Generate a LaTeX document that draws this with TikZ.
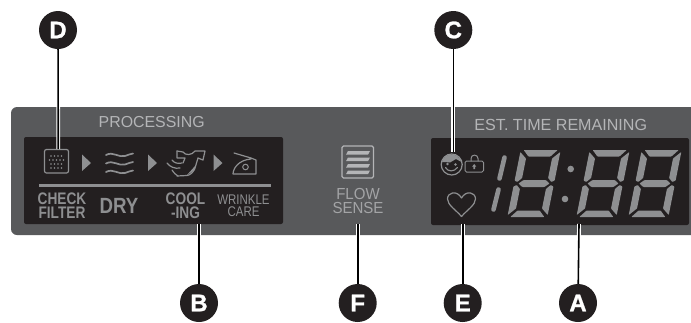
\documentclass[tikz,border=0pt]{standalone}
\usepackage{fontspec}
\setmainfont{Liberation Sans}
\newfontfamily\badgefont[UprightFont={* Bold},FakeBold=1.2]{Liberation Sans}
\definecolor{panel}{HTML}{58595B}
\definecolor{lcd}{HTML}{231F20}
\definecolor{seg}{HTML}{8E8F91}
\definecolor{lbl}{HTML}{B4B5B7}
\definecolor{flowc}{HTML}{A3A4A6}
\newcommand{\segdigit}[2]{%
\begin{scope}[shift={(#1,#2)},xslant=0.2]
\fill[seg,rounded corners=0.6pt] (3,-33.5)--(37,-33.5)--(31,-27)--(9,-27)--cycle;
\fill[seg,rounded corners=0.6pt] (3,33.5)--(37,33.5)--(31,27)--(9,27)--cycle;
\fill[seg,rounded corners=0.6pt] (4.5,0)--(9,-3.5)--(31,-3.5)--(35.5,0)--(31,3.5)--(9,3.5)--cycle;
\fill[seg,rounded corners=0.6pt] (0,-31.5)--(7,-25)--(7,-5.5)--(3,-1.5)--(0,-3)--cycle;
\fill[seg,rounded corners=0.6pt] (0,31.5)--(7,25)--(7,5.5)--(3,1.5)--(0,3)--cycle;
\fill[seg,rounded corners=0.6pt] (40,-31.5)--(33,-25)--(33,-5.5)--(37,-1.5)--(40,-3)--cycle;
\fill[seg,rounded corners=0.6pt] (40,31.5)--(33,25)--(33,5.5)--(37,1.5)--(40,3)--cycle;
\end{scope}}
\tikzset{
 badge/.style={circle,fill=lcd,text=white,minimum size=38pt,inner sep=0pt,font=\badgefont\fontsize{24}{24}\selectfont},
 leader/.style={draw=black,line width=1.6pt,preaction={draw=white,line width=3.8pt}},
 icon/.style={draw=seg,line width=1.2pt,line join=round,line cap=round},
 lab/.style={inner sep=0pt,text=seg,align=center},
}
\begin{document}
\begin{tikzpicture}[x=1pt,y=-1pt]
\useasboundingbox (0,0) rectangle (691,322);
\fill[white] (0,0) rectangle (691,322);
\begin{scope}
\clip (0,0) rectangle (691,322);
\fill[panel,rounded corners=6pt] (11,107) rectangle (705,235);
\end{scope}
\fill[lcd,rounded corners=2pt] (24,137) rectangle (283,224);
\fill[lcd,rounded corners=2pt] (431,138) rectangle (689,225);
% headings
\node[lab,text=lbl,font=\fontsize{15.9}{16}\selectfont] (proc) at (151.7,122.3) {PROCESSING};
\node[lab,text=lbl,font=\fontsize{16.1}{16}\selectfont] (est) at (560.8,124.5) {EST. TIME REMAINING};
% filter icon
\draw[icon,rounded corners=2pt] (44.5,149.5) rectangle (68.5,173);
\foreach \yy/\xs in {156/{51,54.5,58,61.5},160/{49.5,53,56.5,60,63.5},164/{51,54.5,58,61.5},168/{51,54.5,58,61.5}}
  \foreach \xx in \xs \fill[seg] (\xx,\yy) circle (0.9);
% arrows
\fill[seg] (82,154.5) -- (91,163) -- (82,171) -- cycle;
\fill[seg] (148,154.5) -- (157,163) -- (148,171) -- cycle;
\fill[seg] (213.5,154.5) -- (222.5,163) -- (213.5,171) -- cycle;
% dry waves
\foreach \yy in {0,8.5,17}
  \draw[icon,line width=1.7pt] (106,155+\yy) .. controls (113,151+\yy) and (119,158+\yy) .. (125,156+\yy) .. controls (128,155+\yy) and (130,154+\yy) .. (133,153.5+\yy);
% cooling shirt
\draw[icon] (177,151) -- (183,152) .. controls (185,155.5) and (192,155.5) .. (195,151) -- (205,151) -- (203,160) -- (198,158) -- (195,168) .. controls (193,173) and (190,175) .. (187,175.5) -- (177,176);
\draw[icon] (177,151) -- (177,158) -- (185,158) -- (183,163);
\draw[icon] (167,163) .. controls (170,167) and (175,169) .. (180,168);
\draw[icon] (172,160) .. controls (174,163) and (178,164) .. (182,163);
\draw[icon] (172,170) .. controls (174,173) and (176,175) .. (178,176);
\fill[seg] (195,166) -- (187,175) -- (195,170) -- cycle;
% iron
\draw[icon] (234,153) -- (251,158) -- (256,160) -- (256,174) -- (233,174) .. controls (233,169) and (238,160) .. (251,159);
\draw[icon,line width=1pt] (245.5,167) circle (2.8);
% divider
\fill[seg] (39,184) rectangle (271,187);
% labels
\node[lab,font=\bfseries\fontsize{16.7}{13.5}\selectfont] (chk) at (62,205.5) {\scalebox{.82}[1]{CHECK}\\\scalebox{.82}[1]{FILTER}};
\node[lab,font=\bfseries\fontsize{22}{22}\selectfont] (dry) at (119,206) {\scalebox{.85}[1]{DRY}};
\node[lab,font=\bfseries\fontsize{16.7}{13.5}\selectfont] (cool) at (185.5,205.5) {\scalebox{.82}[1]{COOL}\\\scalebox{.82}[1]{-ING}};
\node[lab,font=\fontsize{14}{12.3}\selectfont] (wr) at (243.5,206) {\scalebox{.82}[1]{WRINKLE}\\\scalebox{.82}[1]{CARE}};
% flow sense
\draw[lbl,line width=1.2pt,rounded corners=1.5pt] (342,146) rectangle (373.5,178);
\foreach \yy in {151,157.5,164,170.5}
  \fill[lbl] (348,\yy) -- (370,\yy) -- (368,\yy+3.7) -- (346,\yy+3.7) -- cycle;
\node[lab,text=flowc,font=\fontsize{16}{14}\selectfont] (flow) at (358,201) {\scalebox{.94}[1]{FLOW}\\\scalebox{.94}[1]{SENSE}};
% face
\draw[icon] (451.7,164.5) circle (10.5);
\fill[seg] (442,162) .. controls (444,153) and (458,151) .. (461.5,162) -- (456,159) -- (450,162.5) .. controls (447,163) and (445,161) .. (442,162) -- cycle;
\fill[seg] (447.5,164) circle (1.4) (455.5,164.5) circle (1.4);
\draw[icon,line width=1.1pt] (445.5,167.5) .. controls (448,172) and (454,172) .. (457.5,167.5);
% lock
\draw[icon,rounded corners=1.5pt,line width=1pt] (465,161) rectangle (483.5,172);
\draw[icon,line width=1pt] (471,161) -- (471,158.5) .. controls (471,154) and (478,154) .. (478,158.5) -- (478,161);
\fill[seg] (474.2,164) -- (476.2,166.5) -- (475,166.5) -- (475,169) -- (473.4,169) -- (473.4,166.5) -- (472.2,166.5) -- cycle;
% heart
\draw[icon] (461.5,216.5) .. controls (456,210) and (447.5,205) .. (447.5,199) .. controls (447.5,192) and (457,190) .. (461.5,198) .. controls (466,190) and (475.5,192) .. (475.5,199) .. controls (475.5,205) and (467,210) .. (461.5,216.5) -- cycle;
% digits
\draw[seg,line width=4.6pt,line cap=round] (504.5,157.5) -- (499.5,178.5);
\draw[seg,line width=4.6pt,line cap=round] (498.5,189.5) -- (493.5,209.5);
\segdigit{514}{183.5}
\segdigit{583}{183.5}
\segdigit{635}{183.5}
\fill[seg] (570.7,169) circle (3.3) (565,199) circle (3.3);
% leaders and badges
\coordinate (Dend) at (58.3,149);
\coordinate (Cend) at (453.3,152);
\coordinate (Bend) at (199,224);
\coordinate (Fend) at (357.7,224);
\coordinate (Eend) at (462.7,224);
\coordinate (Aend) at (579,224);
\coordinate (Dc) at (58,30);
\coordinate (Cc) at (453.3,30);
\coordinate (Bc) at (199,303);
\coordinate (Fc) at (357.7,303);
\coordinate (Ec) at (462.7,303);
\coordinate (Ac) at (578,303);
\foreach \p/\q in {Dc/Dend,Cc/Cend,Bc/Bend,Fc/Fend,Ec/Eend,Ac/Aend}
  \draw[leader] (\p) -- (\q);
\node[badge] (D) at (Dc) {D};
\node[badge] (C) at (Cc) {C};
\node[badge] (B) at (Bc) {B};
\node[badge] (F) at (Fc) {F};
\node[badge] (E) at (Ec) {E};
\node[badge] (A) at (Ac) {A};
\end{tikzpicture}
\end{document}
